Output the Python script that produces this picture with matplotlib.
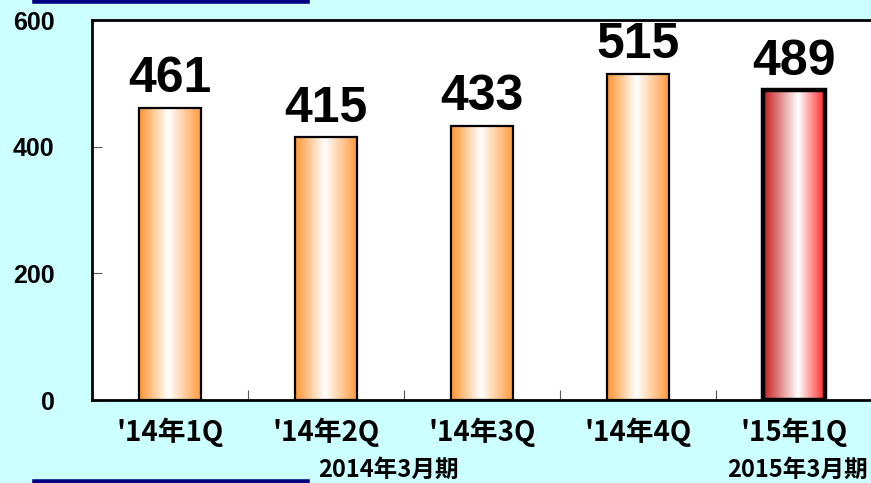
import numpy as np
import matplotlib
matplotlib.use("Agg")
import matplotlib.pyplot as plt
from matplotlib.colors import LinearSegmentedColormap
from matplotlib.ticker import FixedLocator

# datos
categorias = ["'14年1Q", "'14年2Q", "'14年3Q", "'14年4Q", "'15年1Q"]
valores = [461, 415, 433, 515, 489]
periodos = ["2014年3月期", "2015年3月期"]
periodo_x = [1.40, 4.02]
y_ticks = [0, 200, 400, 600]

BG = "#CCFFFF"
CJK = ["Noto Sans CJK JP", "DejaVu Sans"]
SANS = ["Liberation Sans", "DejaVu Sans"]

cm_orange = LinearSegmentedColormap.from_list(
    "og", [(0, "#FF9430"), (0.47, "#FFFFFF"), (1, "#FF9838")])
cm_red = LinearSegmentedColormap.from_list(
    "rd", [(0, "#C41A1A"), (0.56, "#FFFFFF"), (1, "#FF1E1E")])

fig = plt.figure(figsize=(8.71, 4.83), dpi=100, facecolor=BG)
ax = fig.add_axes([92 / 871, 1 - 400 / 483, 780 / 871, 380 / 483])
ax.set_facecolor("white")

x = np.arange(len(valores))
bars = ax.bar(x, valores, width=0.40, color="none", zorder=3)
grad = np.linspace(0, 1, 256).reshape(1, -1)
for i, b in enumerate(bars):
    last = i == len(bars) - 1
    b.set_edgecolor("black")
    b.set_linewidth(3.2 if last else 1.6)
    im = ax.imshow(grad, cmap=cm_red if last else cm_orange, aspect="auto",
                   extent=[b.get_x(), b.get_x() + b.get_width(), 0, b.get_height()],
                   zorder=2, interpolation="bilinear")
    im.set_clip_path(b)
    ax.annotate(str(valores[i]), (b.get_x() + b.get_width() / 2, b.get_height()),
                xytext=(0, 4), textcoords="offset points", ha="center", va="bottom",
                fontsize=36, fontweight="bold", family=SANS, zorder=4)

ax.set_xlim(-0.5, len(valores) - 0.5)
ax.set_ylim(0, 600)
ax.set_yticks(y_ticks)
ax.set_yticklabels([str(v) for v in y_ticks], fontsize=18, fontweight="bold",
                   family=SANS)
ax.tick_params(axis="y", direction="in", length=7, width=0.8, pad=27,
               color="#555555")
ax.set_xticks(x)
ax.set_xticklabels(categorias, fontsize=20, fontweight="bold", family=CJK)
ax.tick_params(axis="x", which="major", length=0, pad=13)
ax.xaxis.set_minor_locator(FixedLocator(x[:-1] + 0.5))
ax.tick_params(axis="x", which="minor", direction="in", length=7, width=0.8,
               color="#555555")
for s in ["left", "top", "bottom"]:
    ax.spines[s].set_linewidth(2)
ax.spines["right"].set_visible(False)

# etiquetas de periodo
for px, txt in zip(periodo_x, periodos):
    ax.annotate(txt, (px, 0), xycoords=("data", "figure fraction"),
                xytext=(0, 0.5), textcoords="offset points",
                ha="center", va="bottom", fontsize=17, fontweight="bold",
                family=CJK)

# lineas azules de marco
fig.add_artist(plt.Line2D([35 / 871, 307 / 871], [1 - 1 / 483] * 2,
                          color="#000080", lw=4))
fig.add_artist(plt.Line2D([35 / 871, 307 / 871], [1.5 / 483] * 2,
                          color="#000080", lw=4))

fig.savefig("out.png", dpi=100, facecolor=BG)
